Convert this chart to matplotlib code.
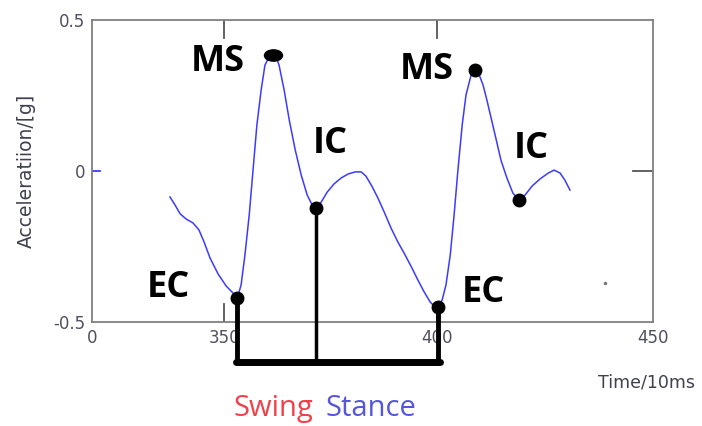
import numpy as np
import matplotlib
matplotlib.use("Agg")
import matplotlib.pyplot as plt
from matplotlib.path import Path

# ---- data ----
time = [337.3, 338.5, 339.7, 341.1, 342.7, 344.1, 345.3, 346.7, 348.6, 350.5, 352.1, 353.1,
        354.0, 354.9, 355.9, 356.8, 357.7, 358.7, 359.6, 360.8, 362.0, 362.9, 364.1, 365.3,
        366.7, 368.1, 369.5, 370.7, 371.6, 372.8, 374.2, 375.8, 377.5, 379.1, 380.8, 382.2,
        383.3, 384.7, 386.1, 387.6, 389.2, 390.8, 392.5, 394.1, 395.5, 397.0, 398.4, 399.5,
        400.2, 401.2, 402.1, 403.1, 404.0, 404.9, 405.9, 406.8, 408.0, 408.9, 409.9, 410.8,
        411.7, 412.7, 413.9, 415.0, 416.4, 417.8, 419.2, 420.7, 422.3, 424.2, 426.1, 427.5,
        428.9, 430.0, 431.2]
accel = [-0.086, -0.113, -0.142, -0.159, -0.172, -0.195, -0.235, -0.288, -0.341, -0.381, -0.404, -0.421,
         -0.377, -0.278, -0.146, 0.003, 0.152, 0.268, 0.351, 0.384, 0.384, 0.351, 0.268, 0.169,
         0.070, -0.013, -0.079, -0.113, -0.123, -0.103, -0.070, -0.043, -0.023, -0.010, -0.003, -0.003,
         -0.017, -0.050, -0.089, -0.136, -0.189, -0.235, -0.278, -0.321, -0.361, -0.401, -0.434, -0.450,
         -0.450, -0.427, -0.377, -0.278, -0.146, 0.003, 0.152, 0.252, 0.318, 0.334, 0.318, 0.285,
         0.235, 0.175, 0.103, 0.036, -0.023, -0.073, -0.096, -0.079, -0.050, -0.026, -0.007, 0.003,
         -0.007, -0.030, -0.063]

event_labels = ["EC", "MS", "IC", "EC", "MS", "IC"]
event_t = [353.1, 361.4, 371.6, 400.2, 408.9, 419.2]
event_a = [-0.421, 0.384, -0.123, -0.450, 0.334, -0.096]
label_t = [336.9, 348.6, 374.9, 410.8, 397.6, 422.1]
label_a = [-0.388, 0.362, 0.090, -0.403, 0.335, 0.072]

bracket_level = -0.632
stray_t, stray_a = [439.4], [-0.371]

x_ticks = [319.0, 350, 400, 450.7]
x_ticklabels = ["0", "350", "400", "450"]
y_ticks = [-0.5, 0, 0.5]
y_ticklabels = ["-0.5", "0", "0.5"]

# ---- figure ----
fig = plt.figure(figsize=(7.02, 4.26), dpi=100)
ax = fig.add_axes([0.1311, 0.2441, 0.7991, 0.709])
ax.set_xlim(319.0, 450.7)
ax.set_ylim(-0.5, 0.5)

ax.plot(time, accel, color="#3b3bff", lw=1.1, zorder=3)

# event markers
ell = Path.unit_circle()
ell = Path(ell.vertices * np.array([1.6, 1.0]), ell.codes)
for i, (t, a) in enumerate(zip(event_t, event_a)):
    if i == 1:
        ax.plot(t, a, marker=ell, ms=13, color="black", zorder=5, clip_on=False)
    else:
        ax.plot(t, a, "o", ms=9, color="black", zorder=5, clip_on=False)

for lab, t, a in zip(event_labels, label_t, label_a):
    ax.text(t, a, lab, fontsize=26, fontweight="bold", family="Open Sans",
            ha="center", va="center", color="black", zorder=6)

# stance/swing bracket
for t, a, w in [(event_t[0], event_a[0], 3.5), (event_t[2], event_a[2], 2.5), (event_t[3], event_a[3], 3.5)]:
    ax.plot([t, t], [a, bracket_level], color="black", lw=w, clip_on=False, zorder=4,
            solid_capstyle="butt")
ax.plot([event_t[0] - 0.4, event_t[3] + 0.5], [bracket_level, bracket_level], color="black",
        lw=5, clip_on=False, zorder=4, solid_capstyle="round")

ax.plot(stray_t, stray_a, "o", ms=1.5, color="#777777")

# axes styling
for s in ax.spines.values():
    s.set_color("#7f7f7f")
    s.set_linewidth(1.3)
ax.set_xticks(x_ticks)
ax.set_xticklabels(x_ticklabels)
ax.set_yticks(y_ticks)
ax.set_yticklabels(y_ticklabels)
ax.tick_params(axis="both", direction="in", length=0, labelsize=12,
               labelcolor="#505060", pad=5)
for t in [350, 400]:
    ax.plot([t, t], [-0.5, -0.44], color="#555555", lw=1.3, zorder=2)
    ax.plot([t, t], [0.5, 0.44], color="#555555", lw=1.3, zorder=2)
ax.plot([319.0, 320.8], [0, 0], color="#3b3bff", lw=1.3, zorder=2)
ax.plot([446.0, 450.7], [0, 0], color="#555555", lw=1.3, zorder=2)

fig.text(0.037, 0.598, "Acceleratiion/[g]", rotation=90, ha="center", va="center",
         fontsize=13.5, color="#404050", family="Liberation Sans Narrow")
fig.text(0.921, 0.101, "Time/10ms", ha="center", va="center", fontsize=12.5,
         color="#404050", family="Liberation Sans Narrow")
fig.text(0.390, 0.040, "Swing", ha="center", va="center", fontsize=21,
         color="#f0404a", family="Open Sans")
fig.text(0.529, 0.040, "Stance", ha="center", va="center", fontsize=21,
         color="#5555e0", family="Open Sans")

fig.savefig("out.png", dpi=100)
